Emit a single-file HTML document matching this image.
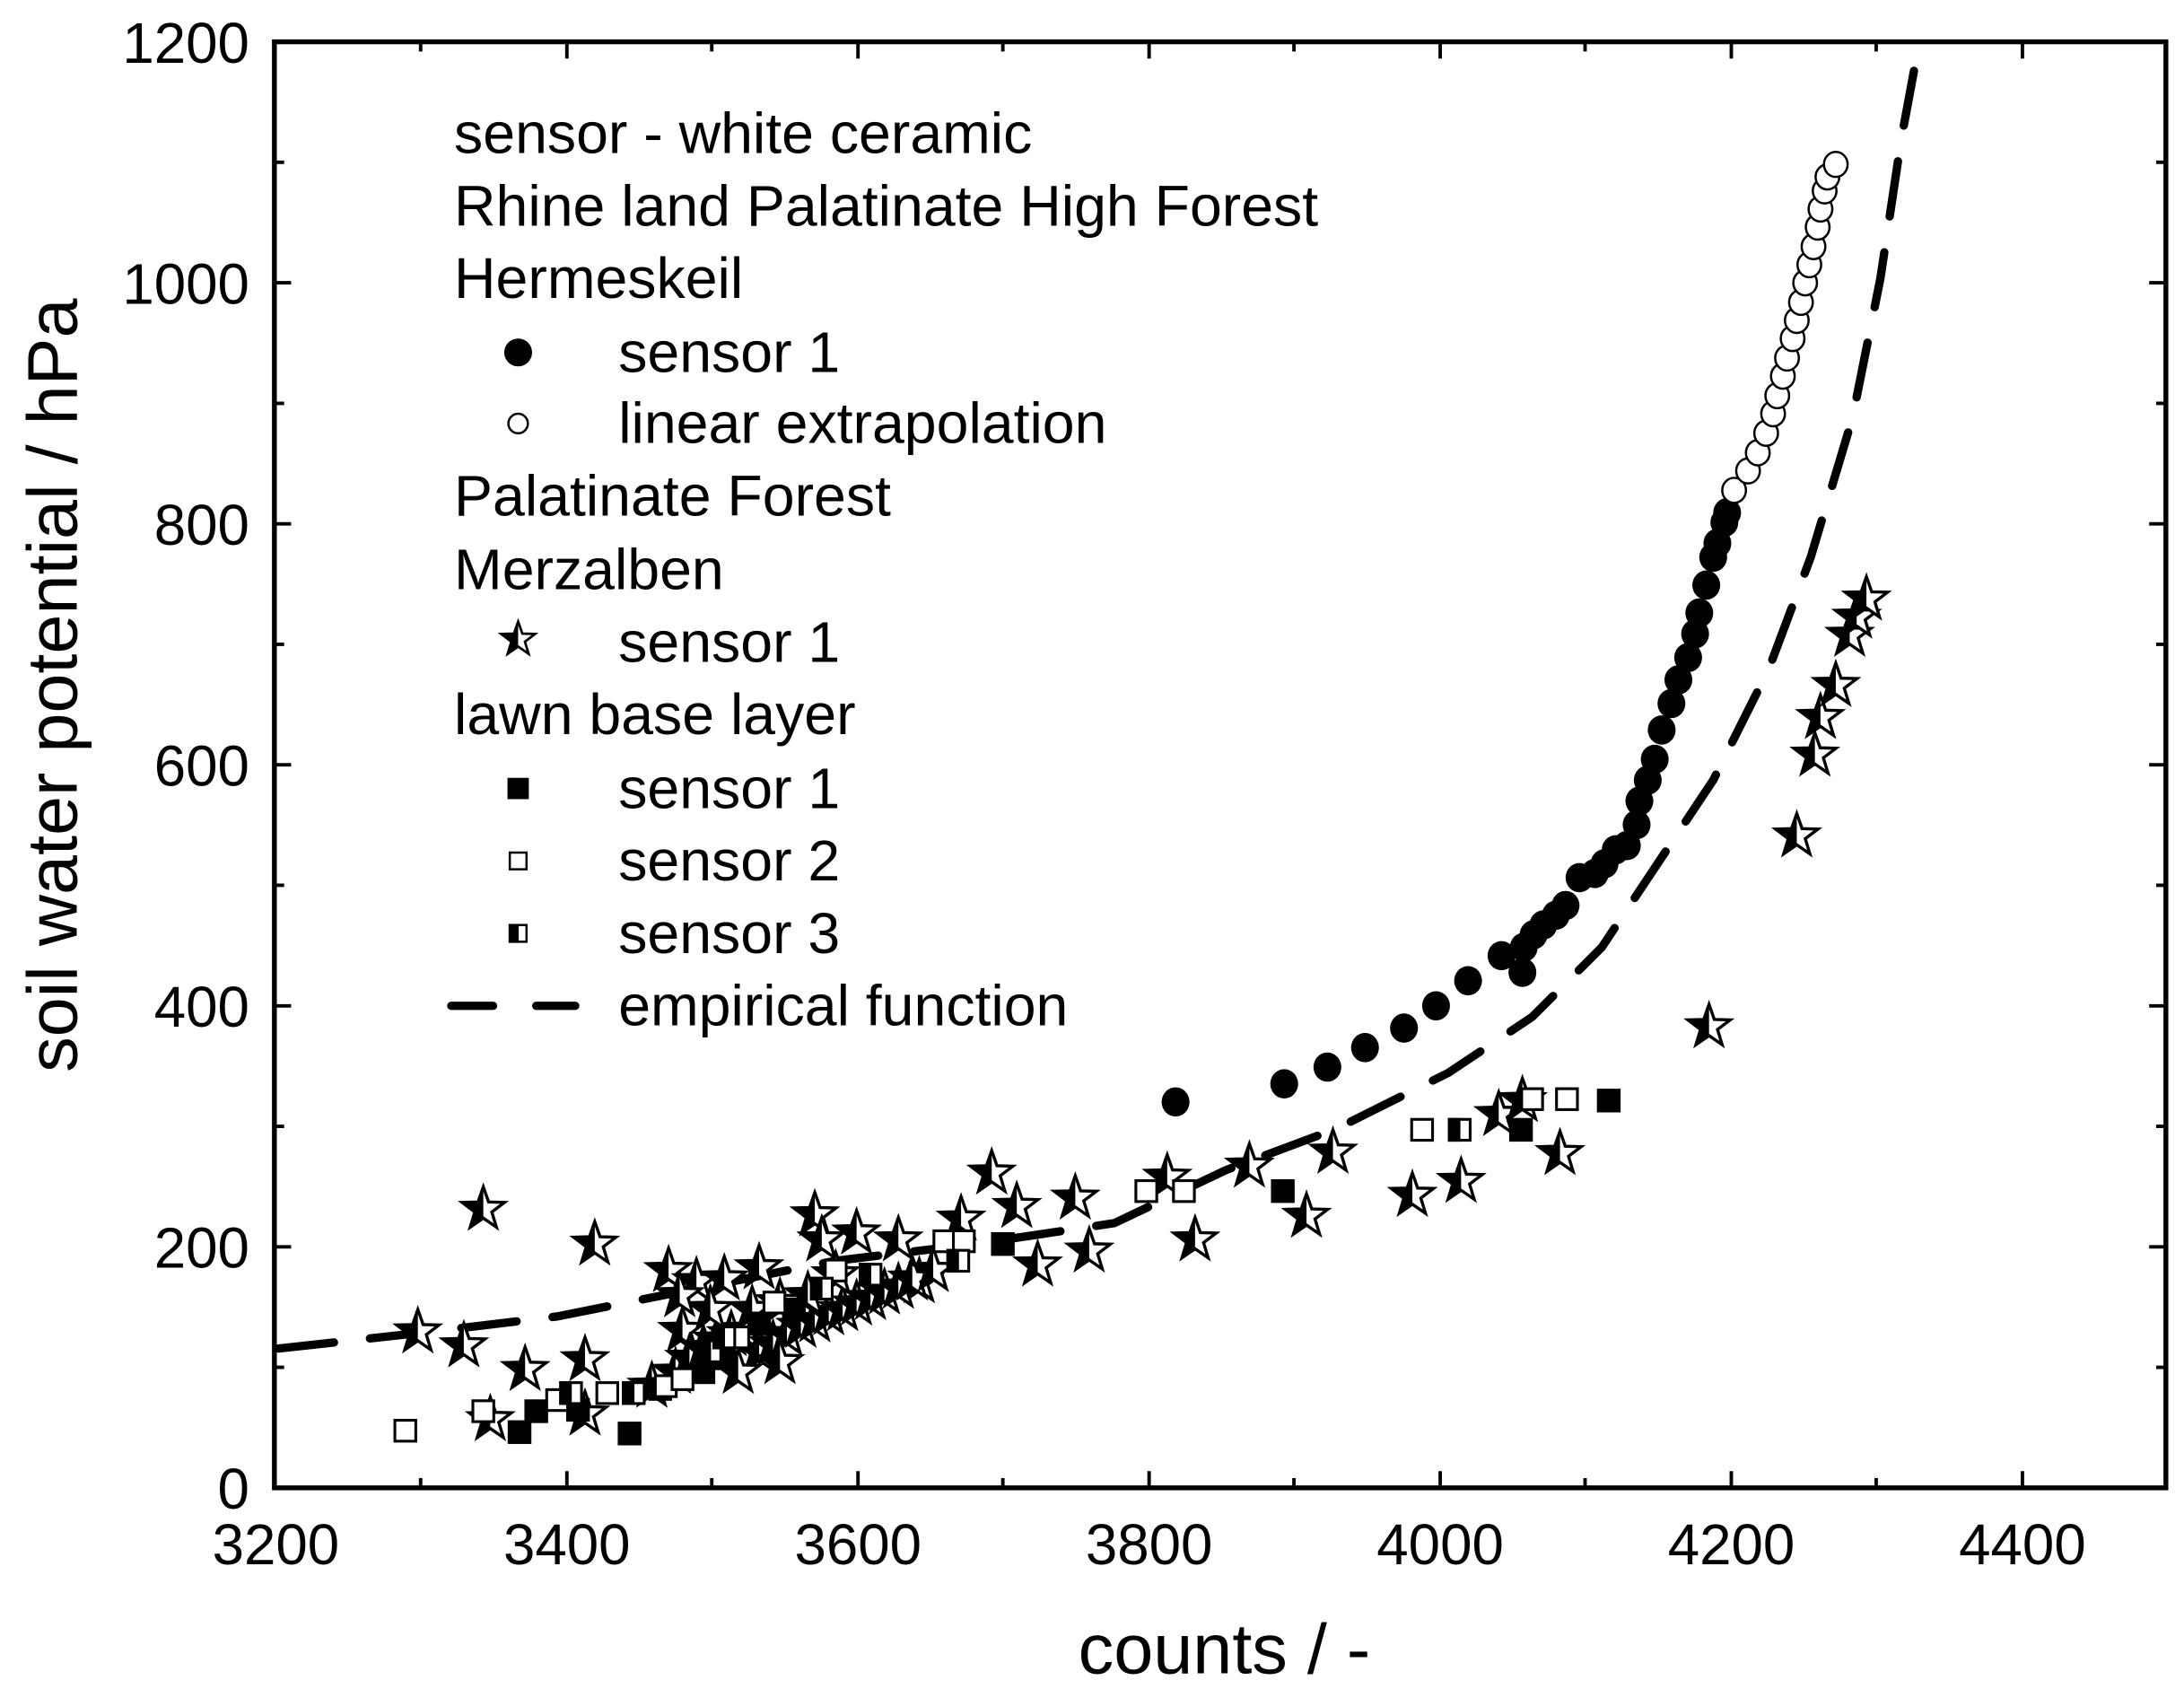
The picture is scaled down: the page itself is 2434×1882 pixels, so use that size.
<!DOCTYPE html>
<html><head><meta charset="utf-8"><style>html,body{margin:0;padding:0;background:#fff}svg{display:block}</style></head>
<body>
<svg width="2434" height="1882" viewBox="0 0 1568 1212.4" preserveAspectRatio="none" xmlns="http://www.w3.org/2000/svg" font-family="Liberation Sans, Arial, sans-serif">
<defs>
<clipPath id="lh"><rect x="-20" y="-20" width="20" height="40"/></clipPath>
<g id="st">
<path d="M0,-16 L3.8,-5.2 L15.2,-4.9 L6.1,2 L9.4,12.9 L0,6.4 L-9.4,12.9 L-6.1,2 L-15.2,-4.9 L-3.8,-5.2Z" fill="#fff" stroke="#000" stroke-width="2.2"/>
<path d="M0,-16 L3.8,-5.2 L15.2,-4.9 L6.1,2 L9.4,12.9 L0,6.4 L-9.4,12.9 L-6.1,2 L-15.2,-4.9 L-3.8,-5.2Z" fill="#000" clip-path="url(#lh)"/>
</g>
<rect id="sf" x="-8.5" y="-8.5" width="17" height="17" fill="#000"/>
<rect id="so" x="-7.5" y="-7.5" width="15" height="15" fill="#fff" stroke="#000" stroke-width="2"/>
<g id="sh"><rect x="-7.5" y="-7.5" width="15" height="15" fill="#fff" stroke="#000" stroke-width="2"/><rect x="-8.5" y="-8.5" width="9" height="17" fill="#000"/></g>
<ellipse id="cf" rx="10" ry="10.5" fill="#000"/>
<ellipse id="co" rx="8.5" ry="9" fill="#fff" stroke="#000" stroke-width="1.6"/>
</defs>
<!-- axes -->
<rect x="197" y="30" width="1358" height="1038" fill="none" stroke="#000" stroke-width="3.5"/>
<g stroke="#000" stroke-width="2.5">
<path d="M302,1068v-7M407,1068v-12M511,1068v-7M616,1068v-12M720,1068v-7M825,1068v-12M929,1068v-7M1034,1068v-12M1138,1068v-7M1243,1068v-12M1347,1068v-7M1452,1068v-12"/>
<path d="M302,30v7M407,30v12M511,30v7M616,30v12M720,30v7M825,30v12M929,30v7M1034,30v12M1138,30v7M1243,30v12M1347,30v7M1452,30v12"/>
<path d="M197,981.5h7M197,895h12M197,808.5h7M197,722h12M197,635.5h7M197,549h12M197,462.5h7M197,376h12M197,289.5h7M197,203h12M197,116.5h7"/>
<path d="M1555,981.5h-7M1555,895h-12M1555,808.5h-7M1555,722h-12M1555,635.5h-7M1555,549h-12M1555,462.5h-7M1555,376h-12M1555,289.5h-7M1555,203h-12M1555,116.5h-7"/>
</g>
<g font-size="41" text-anchor="end">
<text x="179" y="1083">0</text><text x="179" y="910">200</text><text x="179" y="737">400</text><text x="179" y="564">600</text><text x="179" y="391">800</text><text x="179" y="218">1000</text><text x="179" y="45">1200</text>
</g>
<g font-size="41" text-anchor="middle">
<text x="198" y="1123">3200</text><text x="407" y="1123">3400</text><text x="616" y="1123">3600</text><text x="825" y="1123">3800</text><text x="1034" y="1123">4000</text><text x="1243" y="1123">4200</text><text x="1452" y="1123">4400</text>
</g>
<text x="879" y="1201" font-size="51" text-anchor="middle">counts / -</text>
<text transform="translate(55,492) rotate(-90)" font-size="51" text-anchor="middle">soil water potential / hPa</text>
<!-- legend -->
<g font-size="41.5">
<text x="326" y="110">sensor - white ceramic</text>
<text x="326" y="162">Rhine land Palatinate High Forest</text>
<text x="326" y="214">Hermeskeil</text>
<text x="444" y="267">sensor 1</text>
<text x="444" y="318">linear extrapolation</text>
<text x="326" y="370">Palatinate Forest</text>
<text x="326" y="423">Merzalben</text>
<text x="444" y="475">sensor 1</text>
<text x="326" y="527">lawn base layer</text>
<text x="444" y="580">sensor 1</text>
<text x="444" y="632">sensor 2</text>
<text x="444" y="684">sensor 3</text>
<text x="444" y="736">empirical function</text>
</g>
<circle cx="372" cy="253" r="10" fill="#000"/>
<circle cx="372" cy="304" r="7" fill="#fff" stroke="#000" stroke-width="1.6"/>
<use href="#st" transform="translate(372,459) scale(0.8)"/>
<use href="#sf" transform="translate(372,566) scale(0.9)"/>
<use href="#so" transform="translate(372,618) scale(0.8)"/>
<use href="#sh" transform="translate(372,670) scale(0.8)"/>
<path d="M324,722h30M385,722h28" stroke="#000" stroke-width="6" stroke-linecap="round"/>
<!-- empirical curve -->
<path d="M200,968 L300,957 L400,945 L500,925 L600,905 L700,893 L800,878 L880,840 L960,810 L1040,770 L1100,730 L1150,680 L1190,620 L1230,560 L1270,480 L1300,400 L1330,300 L1350,200 L1365,100 L1378,30" fill="none" stroke="#000" stroke-width="6" stroke-dasharray="40,26" stroke-linecap="round"/>
<!-- stars -->
<g>
<use href="#st" x="347" y="868"/><use href="#st" x="427" y="893"/><use href="#st" x="300" y="956"/><use href="#st" x="333" y="966"/><use href="#st" x="377" y="983"/><use href="#st" x="420" y="976"/><use href="#st" x="352" y="1019"/><use href="#st" x="420" y="1015"/>
<use href="#st" x="480" y="912"/><use href="#st" x="490" y="955"/><use href="#st" x="500" y="920"/><use href="#st" x="520" y="918"/><use href="#st" x="545" y="910"/><use href="#st" x="585" y="872"/><use href="#st" x="590" y="890"/><use href="#st" x="615" y="885"/><use href="#st" x="645" y="890"/><use href="#st" x="660" y="920"/><use href="#st" x="690" y="875"/><use href="#st" x="712" y="842"/><use href="#st" x="730" y="866"/><use href="#st" x="745" y="908"/><use href="#st" x="772" y="860"/><use href="#st" x="782" y="898"/><use href="#st" x="838" y="845"/><use href="#st" x="858" y="890"/><use href="#st" x="897" y="837"/><use href="#st" x="938" y="873"/><use href="#st" x="957" y="827"/><use href="#st" x="1014" y="858"/><use href="#st" x="1049" y="848"/><use href="#st" x="1076" y="800"/><use href="#st" x="1093" y="790"/><use href="#st" x="1120" y="828"/><use href="#st" x="1227" y="737"/><use href="#st" x="1290" y="600"/><use href="#st" x="1303" y="542"/><use href="#st" x="1307" y="515"/><use href="#st" x="1318" y="492"/><use href="#st" x="1328" y="456"/><use href="#st" x="1333" y="443"/><use href="#st" x="1340" y="430"/>
<use href="#st" x="468" y="995"/><use href="#st" x="485" y="985"/><use href="#st" x="495" y="975"/><use href="#st" x="505" y="968"/><use href="#st" x="515" y="962"/><use href="#st" x="525" y="958"/><use href="#st" x="535" y="955"/><use href="#st" x="545" y="970"/><use href="#st" x="555" y="965"/><use href="#st" x="565" y="958"/><use href="#st" x="575" y="952"/><use href="#st" x="585" y="948"/><use href="#st" x="595" y="943"/><use href="#st" x="605" y="940"/><use href="#st" x="615" y="936"/><use href="#st" x="625" y="932"/><use href="#st" x="635" y="928"/><use href="#st" x="645" y="924"/><use href="#st" x="655" y="918"/><use href="#st" x="670" y="912"/><use href="#st" x="580" y="930"/><use href="#st" x="560" y="935"/><use href="#st" x="540" y="940"/><use href="#st" x="600" y="915"/><use href="#st" x="510" y="940"/><use href="#st" x="488" y="930"/><use href="#st" x="530" y="985"/><use href="#st" x="560" y="978"/>
</g>
<!-- squares -->
<g>
<use href="#sf" x="373" y="1028"/><use href="#sf" x="452" y="1029"/><use href="#sf" x="385" y="1013"/><use href="#sf" x="415" y="1012"/><use href="#sf" x="474" y="997"/><use href="#sf" x="505" y="985"/><use href="#sf" x="545" y="950"/><use href="#sf" x="720" y="893"/><use href="#sf" x="921" y="855"/><use href="#sf" x="1092" y="811"/><use href="#sf" x="1155" y="790"/><use href="#sf" x="520" y="975"/><use href="#sf" x="570" y="940"/>
<use href="#so" x="291" y="1027"/><use href="#so" x="347" y="1013"/><use href="#so" x="400" y="1005"/><use href="#so" x="436" y="1000"/><use href="#so" x="478" y="995"/><use href="#so" x="490" y="990"/><use href="#so" x="556" y="935"/><use href="#so" x="600" y="912"/><use href="#so" x="678" y="891"/><use href="#so" x="692" y="891"/><use href="#so" x="823" y="855"/><use href="#so" x="850" y="855"/><use href="#so" x="1021" y="811"/><use href="#so" x="1100" y="789"/><use href="#so" x="1125" y="789"/><use href="#so" x="530" y="960"/>
<use href="#sh" x="455" y="1000"/><use href="#sh" x="410" y="1000"/><use href="#sh" x="510" y="970"/><use href="#sh" x="520" y="960"/><use href="#sh" x="625" y="915"/><use href="#sh" x="688" y="905"/><use href="#sh" x="1048" y="811"/><use href="#sh" x="590" y="925"/>
</g>
<!-- circles -->
<g>
<use href="#cf" x="844" y="791"/><use href="#cf" x="922" y="778"/><use href="#cf" x="953" y="766"/><use href="#cf" x="980" y="752"/><use href="#cf" x="1008" y="738"/><use href="#cf" x="1031" y="722"/><use href="#cf" x="1054" y="704"/><use href="#cf" x="1078" y="686"/><use href="#cf" x="1093" y="698"/><use href="#cf" x="1094" y="680"/><use href="#cf" x="1101" y="671"/><use href="#cf" x="1108" y="664"/><use href="#cf" x="1117" y="657"/><use href="#cf" x="1124" y="650"/><use href="#cf" x="1134" y="630"/><use href="#cf" x="1145" y="627"/><use href="#cf" x="1152" y="620"/><use href="#cf" x="1160" y="610"/><use href="#cf" x="1168" y="607"/><use href="#cf" x="1175" y="592"/><use href="#cf" x="1177" y="575"/><use href="#cf" x="1183" y="560"/><use href="#cf" x="1188" y="545"/><use href="#cf" x="1193" y="524"/><use href="#cf" x="1200" y="505"/><use href="#cf" x="1205" y="488"/><use href="#cf" x="1212" y="472"/><use href="#cf" x="1217" y="455"/><use href="#cf" x="1220" y="440"/><use href="#cf" x="1225" y="420"/><use href="#cf" x="1230" y="400"/><use href="#cf" x="1233" y="390"/><use href="#cf" x="1238" y="375"/><use href="#cf" x="1240" y="368"/>
<use href="#co" x="1245" y="352"/><use href="#co" x="1255" y="338"/><use href="#co" x="1262" y="325"/><use href="#co" x="1268" y="311"/><use href="#co" x="1273" y="297"/><use href="#co" x="1276" y="284"/><use href="#co" x="1280" y="270"/><use href="#co" x="1283" y="257"/><use href="#co" x="1287" y="243"/><use href="#co" x="1290" y="230"/><use href="#co" x="1293" y="217"/><use href="#co" x="1296" y="203"/><use href="#co" x="1299" y="190"/><use href="#co" x="1302" y="177"/><use href="#co" x="1305" y="163"/><use href="#co" x="1307" y="150"/><use href="#co" x="1310" y="137"/><use href="#co" x="1312" y="127"/><use href="#co" x="1318" y="118"/>
</g>
</svg>
</body></html>
